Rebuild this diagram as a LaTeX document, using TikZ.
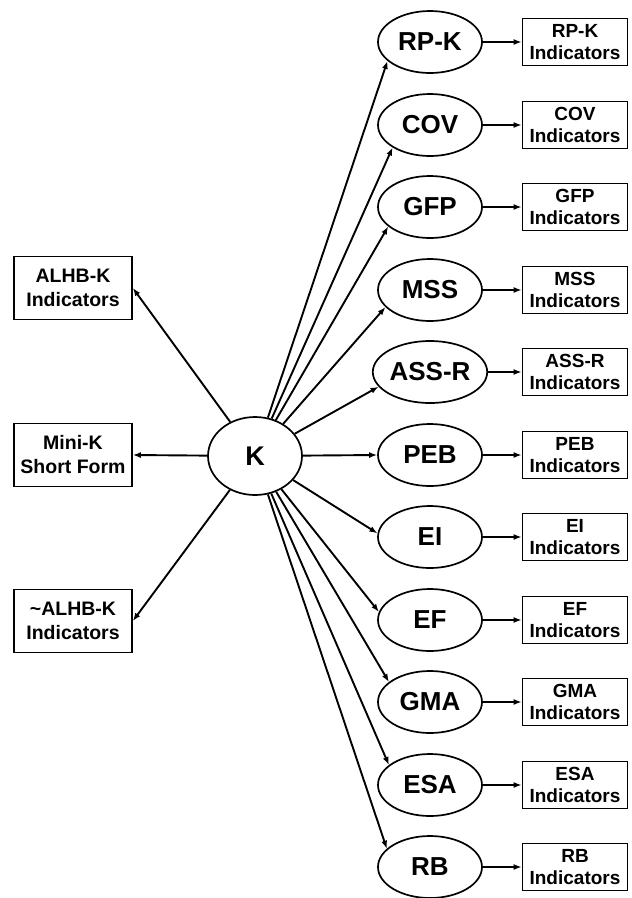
\documentclass[tikz,border=0pt]{standalone}
\usepackage{fontspec}
\setmainfont{Liberation Sans}
\usetikzlibrary{shapes.geometric,arrows.meta}
\begin{document}
\begin{tikzpicture}[x=1pt,y=-1pt,
  conn/.style={line width=1.9pt,-{Latex[length=8pt,width=6pt]}},
  lat/.style={ellipse,draw,line width=1.7pt,minimum width=104pt,minimum height=62pt,inner sep=0pt,font=\fontsize{26}{28}\selectfont\bfseries},
  kel/.style={ellipse,draw,line width=1.7pt,minimum width=94pt,minimum height=78pt,inner sep=0pt,font=\fontsize{27}{29}\selectfont\bfseries},
  ibox/.style={draw,line width=1.7pt,minimum width=105pt,minimum height=47pt,inner sep=0pt,align=center,font=\fontsize{19}{22}\selectfont\bfseries},
  lbox/.style={draw,line width=1.7pt,minimum width=118pt,minimum height=63pt,inner sep=0pt,align=center,font=\fontsize{19.5}{24}\selectfont\bfseries}]
\useasboundingbox (0,0) rectangle (632,898);
\fill[white] (0,0) rectangle (632,898);
\node[kel] (K) at (255,456) {K};
\node[lbox] (alhb) at (73,288) {ALHB-K\\Indicators};
\node[lbox] (mini) at (73,455) {Mini-K\\Short Form};
\node[lbox] (nalhb) at (73,621) {\textasciitilde ALHB-K\\Indicators};
\draw[conn] (K) -- (alhb.east);
\draw[conn] (K) -- (mini.east);
\draw[conn] (K) -- (nalhb.east);
\foreach \n/\lab/\y/\ang in {rpk/RP-K/42/204, cov/COV/125/211, gfp/GFP/207/205, mss/MSS/290/201, ass/ASS-R/372/196, peb/PEB/455/180, ei/EI/537/176, ef/EF/620/171, gma/GMA/702/154, esa/ESA/785/154, rb/RB/867/157}{
  \node[lat] (\n) at (430,\y) {\lab};
  \node[ibox] (\n i) at (575,\y) {\lab\\Indicators};
  \draw[conn] (K) -- (\n.\ang);
  \draw[conn] (\n) -- (\n i);
}
\end{tikzpicture}
\end{document}
